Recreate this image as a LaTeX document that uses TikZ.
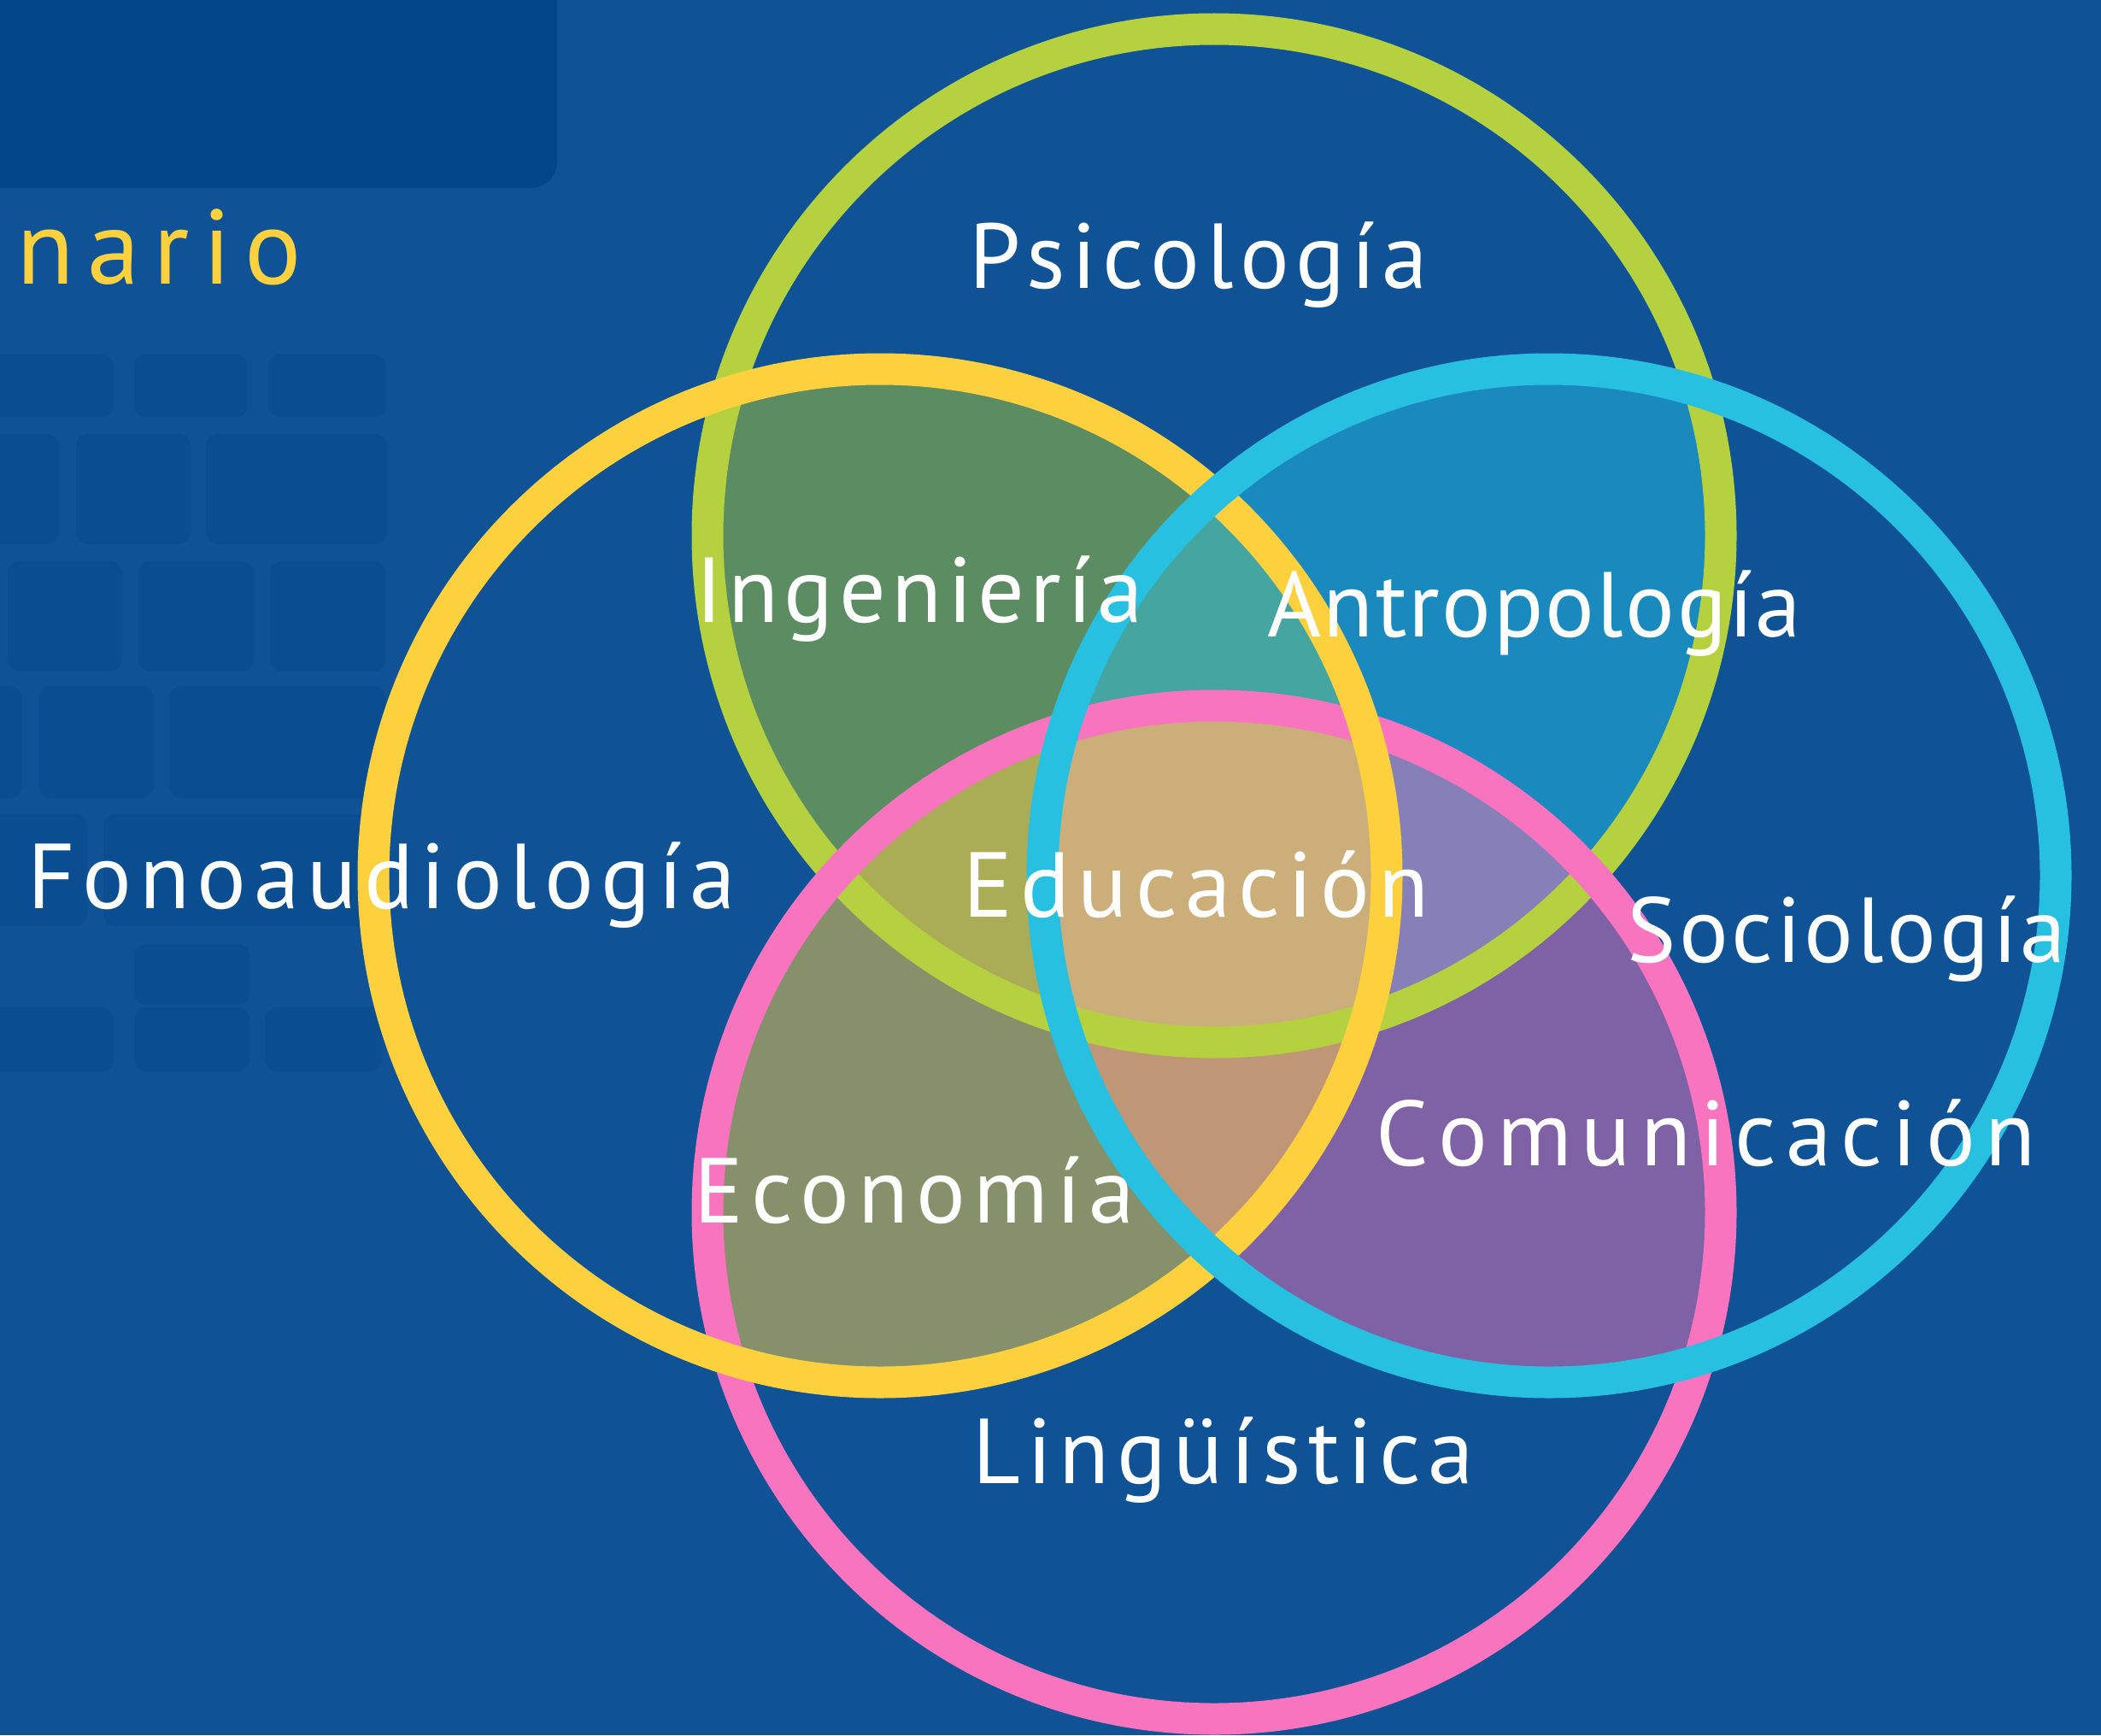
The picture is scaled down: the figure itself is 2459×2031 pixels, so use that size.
\documentclass[tikz,border=0pt]{standalone}
\usepackage{fontspec}
\setmainfont{PT Sans}
\definecolor{bgblue}{HTML}{0F5396}
\definecolor{screen}{HTML}{03478A}
\definecolor{keyc}{HTML}{0A4D91}
\definecolor{cgreen}{HTML}{B5D13F}
\definecolor{cyellow}{HTML}{FDD13E}
\definecolor{ccyan}{HTML}{28C0E0}
\definecolor{cpink}{HTML}{F874BE}
\definecolor{fGY}{HTML}{5C8C62}
\definecolor{fGC}{HTML}{1A89BE}
\definecolor{fYP}{HTML}{86906B}
\definecolor{fCP}{HTML}{7F61A6}
\definecolor{fYC}{HTML}{45A5A0}
\definecolor{fGP}{HTML}{A8A070}
\definecolor{fGYC}{HTML}{44A5A1}
\definecolor{fGYP}{HTML}{AAAD55}
\definecolor{fGCP}{HTML}{877FB8}
\definecolor{fYCP}{HTML}{BF9776}
\definecolor{fALL}{HTML}{CCAE7A}
\newlength\natw
\newlength\trk
\def\trackit#1{\ifx#1\relax\else#1\kern\trk\expandafter\trackit\fi}
\newcommand\fitword[3]{\settowidth\natw{#3}\trk=\dimexpr(#1pt-\natw)/#2\relax\trackit#3\relax}
\begin{document}
\begin{tikzpicture}[x=1pt,y=-1pt,
  ring/.style={circle,draw=#1,line width=37pt,minimum size=1186pt,inner sep=0pt},
  lbl/.style={anchor=base west,inner sep=0pt,text=white,font=\fontsize{108}{120}\selectfont},
  keybox/.style={fill=keyc,rounded corners=14pt}]
\useasboundingbox (0,0) rectangle (2459,2031);
\fill[bgblue] (0,0) rectangle (2459,2031);
% laptop screen and keys (background photo)
\fill[screen,rounded corners=30pt] (-40,-40) rectangle (652,220);
\fill[screen] (-40,-40) rectangle (297,200);
\foreach \xa/\xb in {-20/133,157/290,314/452} \fill[keybox] (\xa,415) rectangle (\xb,488);
\foreach \xa/\xb in {-20/69,89/223,241/453} \fill[keybox] (\xa,508) rectangle (\xb,637);
\foreach \xa/\xb in {9/143,162/297,316/451} \fill[keybox] (\xa,657) rectangle (\xb,786);
\foreach \xa/\xb in {-20/26,45/180,198/451} \fill[keybox] (\xa,803) rectangle (\xb,934);
\foreach \xa/\xb in {-20/102,121/451} \fill[keybox] (\xa,953) rectangle (\xb,1084);
\fill[keybox] (157,1105) rectangle (292,1176);
\foreach \xa/\xb in {-20/133,157/292,310/447} \fill[keybox] (\xa,1179) rectangle (\xb,1254);
% circle centres
\coordinate (cG) at (1421,627);
\coordinate (cY) at (1030,1025);
\coordinate (cC) at (1813,1025);
\coordinate (cP) at (1421,1419);
\def\R{593pt}
% pairwise overlaps
\begin{scope}\clip (cG) circle[radius=\R];\clip (cY) circle[radius=\R];\fill[fGY] (0,0) rectangle (2459,2031);\end{scope}
\begin{scope}\clip (cG) circle[radius=\R];\clip (cC) circle[radius=\R];\fill[fGC] (0,0) rectangle (2459,2031);\end{scope}
\begin{scope}\clip (cY) circle[radius=\R];\clip (cP) circle[radius=\R];\fill[fYP] (0,0) rectangle (2459,2031);\end{scope}
\begin{scope}\clip (cC) circle[radius=\R];\clip (cP) circle[radius=\R];\fill[fCP] (0,0) rectangle (2459,2031);\end{scope}
\begin{scope}\clip (cY) circle[radius=\R];\clip (cC) circle[radius=\R];\fill[fYC] (0,0) rectangle (2459,2031);\end{scope}
\begin{scope}\clip (cG) circle[radius=\R];\clip (cP) circle[radius=\R];\fill[fGP] (0,0) rectangle (2459,2031);\end{scope}
% triple overlaps
\begin{scope}\clip (cG) circle[radius=\R];\clip (cY) circle[radius=\R];\clip (cC) circle[radius=\R];\fill[fGYC] (0,0) rectangle (2459,2031);\end{scope}
\begin{scope}\clip (cG) circle[radius=\R];\clip (cY) circle[radius=\R];\clip (cP) circle[radius=\R];\fill[fGYP] (0,0) rectangle (2459,2031);\end{scope}
\begin{scope}\clip (cG) circle[radius=\R];\clip (cC) circle[radius=\R];\clip (cP) circle[radius=\R];\fill[fGCP] (0,0) rectangle (2459,2031);\end{scope}
\begin{scope}\clip (cY) circle[radius=\R];\clip (cC) circle[radius=\R];\clip (cP) circle[radius=\R];\fill[fYCP] (0,0) rectangle (2459,2031);\end{scope}
% all four
\begin{scope}\clip (cG) circle[radius=\R];\clip (cY) circle[radius=\R];\clip (cC) circle[radius=\R];\clip (cP) circle[radius=\R];\fill[fALL] (0,0) rectangle (2459,2031);\end{scope}
% rings (green, pink, yellow, cyan from bottom to top)
\node[ring=cgreen] (G) at (cG) {};
\node[ring=cpink] (P) at (cP) {};
\node[ring=cyellow] (Y) at (cY) {};
\node[ring=ccyan] (C) at (cC) {};
% labels
\node[anchor=base west,inner sep=0pt,text=cyellow,font=\fontsize{124}{130}\selectfont] (nario) at (19,332) {\fitword{334}{4}{nario}};
\node[lbl] (psi) at (1134,337) {\fitword{531}{9}{Psicología}};
\node[lbl] (ing) at (814,728) {\fitword{524}{9}{Ingeniería}};
\node[lbl] (ant) at (1483,745) {\fitword{625}{11}{Antropología}};
\node[lbl] (fon) at (32,1063) {\fitword{829}{13}{Fonoaudiología}};
\node[lbl] (edu) at (1127,1073) {\fitword{545}{8}{Educación}};
\node[lbl] (soc) at (1904,1126) {\fitword{514}{9}{Sociología}};
\node[lbl] (com) at (1610,1364) {\fitword{769}{11}{Comunicación}};
\node[lbl] (eco) at (812,1431) {\fitword{513}{7}{Economía}};
\node[lbl] (lin) at (1138,1736) {\fitword{587}{10}{Lingüística}};
\end{tikzpicture}
\end{document}
